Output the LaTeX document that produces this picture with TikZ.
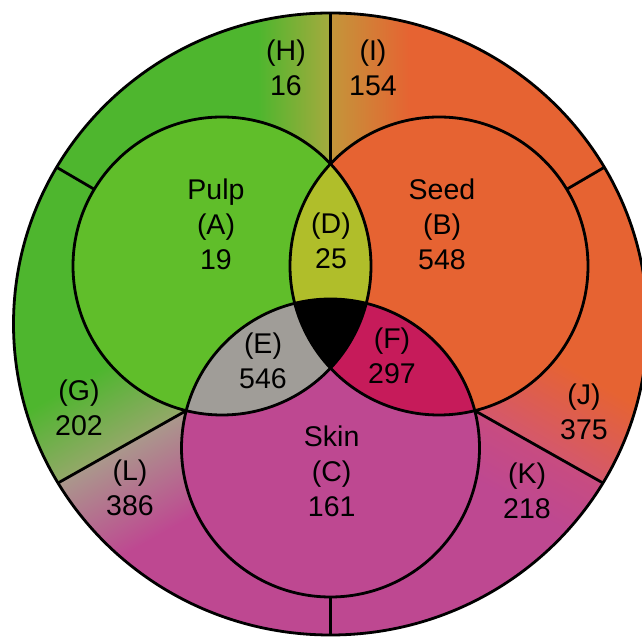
\documentclass[tikz,border=0pt]{standalone}
\usepackage{fontspec}
\setmainfont{Liberation Sans}
\definecolor{ringgreen}{RGB}{78,182,46}
\definecolor{pulpgreen}{RGB}{96,190,42}
\definecolor{seedorange}{RGB}{230,99,50}
\definecolor{skinmag}{RGB}{190,72,145}
\definecolor{dolive}{RGB}{176,190,42}
\definecolor{egray}{RGB}{160,157,152}
\definecolor{fcrimson}{RGB}{198,27,90}
\definecolor{holive}{RGB}{165,170,62}
\definecolor{iolive}{RGB}{195,150,58}
\definecolor{ggray}{RGB}{148,168,105}
\definecolor{lgray}{RGB}{170,152,140}
\definecolor{jpink}{RGB}{212,88,108}
\definecolor{kpink}{RGB}{200,76,128}
\begin{document}
\begin{tikzpicture}[x=1pt,y=1pt,
  outline/.style={line width=2.8pt, black},
  lbl/.style={font=\fontsize{28.5}{35}\selectfont, align=center, inner sep=0pt, text=black}]
\fill[white] (0,0) rectangle (642,639);
% centres
\coordinate (cOut) at (330.5,315);
\coordinate (cMid) at (330.5,313);
\coordinate (cPulp) at (222,373);
\coordinate (cSeed) at (439,373);
\coordinate (cSkin) at (330.5,191);
% divider end points
\coordinate (tI) at (330.5,475.1);  \coordinate (tO) at (330.5,626);
\coordinate (bI) at (330.5,42);     \coordinate (bO) at (330.5,4);
\coordinate (ulI) at (94.3,449.7);  \coordinate (ulO) at (57,471.5);
\coordinate (urI) at (566.7,449.7); \coordinate (urO) at (604,471.5);
\coordinate (llI) at (186.25,228.35); \coordinate (llO) at (58,156);
\coordinate (lrI) at (474.75,228.35); \coordinate (lrO) at (603,156);
% ring fills
\begin{scope}
  \clip (cOut) ellipse [x radius=317, y radius=311];
  \fill[ringgreen] (-50,-50) rectangle (700,700);
  \fill[seedorange] (cMid) -- (330.5,700) -- (700,700) -- (700,101.3) -- (lrI) -- cycle;
  \fill[skinmag] (cMid) -- (lrI) -- (700,101.3) -- (700,-50) -- (-50,-50) -- (-50,94.6) -- (llI) -- cycle;
  \shade[left color=ringgreen, right color=holive] (258,440) rectangle (330.5,640);
  \shade[left color=iolive, right color=seedorange] (330.5,440) rectangle (410,640);
  \begin{scope}[transform canvas={shift={(122.1pt,192.2pt)}, rotate=29.43}]
    \shade[top color=ringgreen, bottom color=ggray] (-220,0) rectangle (220,78);
    \shade[top color=lgray, bottom color=skinmag] (-220,-95) rectangle (220,0);
  \end{scope}
  \begin{scope}[transform canvas={shift={(538.9pt,192.2pt)}, rotate=-29.43}]
    \shade[top color=seedorange, bottom color=jpink] (-220,0) rectangle (220,85);
    \shade[top color=kpink, bottom color=skinmag] (-220,-60) rectangle (220,0);
  \end{scope}
\end{scope}
% inner circles
\fill[pulpgreen] (cPulp) circle[radius=149];
\fill[seedorange] (cSeed) circle[radius=149];
\fill[skinmag] (cSkin) circle[radius=149];
\begin{scope}
  \clip (cPulp) circle[radius=149];
  \fill[dolive] (cSeed) circle[radius=149];
  \fill[egray] (cSkin) circle[radius=149];
\end{scope}
\begin{scope}
  \clip (cSeed) circle[radius=149];
  \fill[fcrimson] (cSkin) circle[radius=149];
\end{scope}
\begin{scope}
  \clip (cPulp) circle[radius=149];
  \clip (cSeed) circle[radius=149];
  \fill[black] (cSkin) circle[radius=149];
\end{scope}
% dividers
\draw[outline] (tI) -- (tO);
\draw[outline] (bI) -- (bO);
\draw[outline] (ulI) -- (ulO);
\draw[outline] (urI) -- (urO);
\draw[outline] (llI) -- (llO);
\draw[outline] (lrI) -- (lrO);
% outlines
\draw[outline] (cOut) ellipse [x radius=317, y radius=311];
\draw[outline] (cPulp) circle[radius=149];
\draw[outline] (cSeed) circle[radius=149];
\draw[outline] (cSkin) circle[radius=149];
% labels
\node[lbl] (lH) at (286,570.8) {(H)\\16};
\node[lbl] (lI) at (373,570.8) {(I)\\154};
\node[lbl] (lA) at (216,414.6) {Pulp\\(A)\\19};
\node[lbl] (lB) at (442,414.6) {Seed\\(B)\\548};
\node[lbl] (lD) at (331,398.2) {(D)\\25};
\node[lbl] (lE) at (263,278.2) {(E)\\546};
\node[lbl] (lF) at (392,283.2) {(F)\\297};
\node[lbl] (lG) at (79,230.7) {(G)\\202};
\node[lbl] (lL) at (130,151.5) {(L)\\386};
\node[lbl] (lC) at (331.7,167.3) {Skin\\(C)\\161};
\node[lbl] (lK) at (527,147.8) {(K)\\218};
\node[lbl] (lJ) at (584,227.3) {(J)\\375};
\pgfresetboundingbox
\useasboundingbox (0,0) rectangle (642,639);
\end{tikzpicture}
\end{document}
